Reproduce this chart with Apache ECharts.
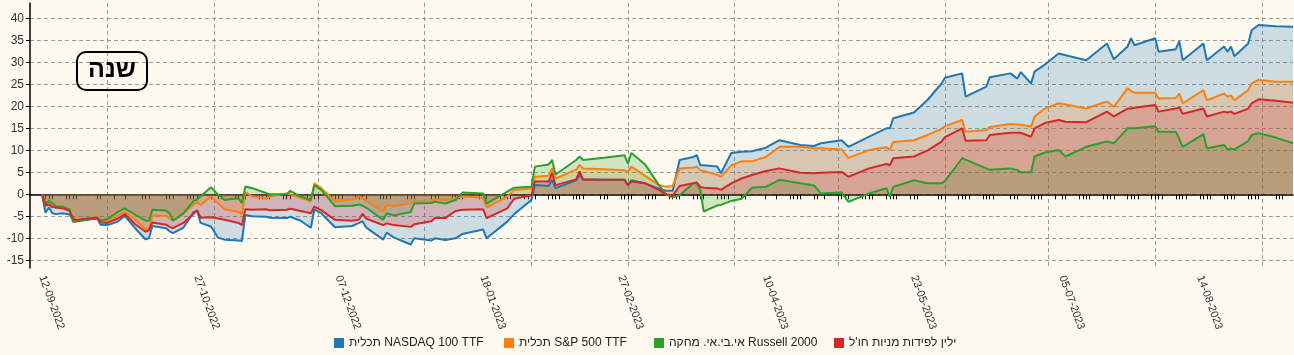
<!DOCTYPE html>
<html><head><meta charset="utf-8">
<script src="https://cdn.jsdelivr.net/npm/echarts@6/dist/echarts.min.js"></script>
<style>html,body{margin:0;padding:0;background:#fdf9ee;}#c{width:1294px;height:355px;}</style>
</head><body><div id="c"></div>
<script>
const seriesNames = ['תכלית NASDAQ 100 TTF','תכלית S&P 500 TTF','אי.בי.אי. מחקה Russell 2000',"ילין לפידות מניות חו'ל"];
const colors = ['#1f77b4','#ff7f0e','#2ca02c','#d62728'];
const titleText = 'שנה';
const yTicks = [-15,-10,-5,0,5,10,15,20,25,30,35,40];
const labelDates = ['2022-09-12','2022-10-27','2022-12-07','2023-01-18','2023-02-27','2023-04-10','2023-05-23','2023-07-05','2023-08-14'];
const monthStarts = ['2022-10-01','2022-11-01','2022-12-01','2023-01-01','2023-02-01','2023-03-01','2023-04-01','2023-05-01','2023-06-01','2023-07-01','2023-08-01','2023-09-01'];
const holidays = ['2022-09-26','2022-09-27','2022-10-04','2022-10-05','2022-10-10','2022-10-17','2022-11-01','2022-11-24','2022-12-26','2023-01-02','2023-01-16','2023-02-20','2023-04-05','2023-04-06','2023-04-11','2023-04-12','2023-04-26','2023-05-25','2023-05-29','2023-06-19','2023-07-04','2023-09-04'];
const axisStart = '2022-09-08T12:00';
const axisEnd = '2023-09-10';

const dates = [
'2022-09-12','2022-09-13','2022-09-14','2022-09-15','2022-09-16','2022-09-18','2022-09-20','2022-09-21','2022-09-22','2022-09-24',
'2022-09-28','2022-09-29','2022-10-01','2022-10-04','2022-10-06','2022-10-09','2022-10-12','2022-10-13','2022-10-14','2022-10-18',
'2022-10-19','2022-10-20','2022-10-23','2022-10-26','2022-10-27','2022-10-28','2022-10-31','2022-11-01','2022-11-02','2022-11-04',
'2022-11-08','2022-11-09','2022-11-10','2022-11-12','2022-11-16','2022-11-17','2022-11-22','2022-11-23','2022-11-26','2022-11-29',
'2022-11-30','2022-12-02','2022-12-06','2022-12-11','2022-12-13','2022-12-14','2022-12-15','2022-12-20','2022-12-21','2022-12-23',
'2022-12-28','2022-12-29','2023-01-03','2023-01-04','2023-01-07','2023-01-10','2023-01-12','2023-01-18','2023-01-19','2023-01-25',
'2023-01-27','2023-02-01','2023-02-02','2023-02-06','2023-02-07','2023-02-08','2023-02-14','2023-02-15','2023-02-16','2023-02-22',
'2023-02-28','2023-03-01','2023-03-02','2023-03-06','2023-03-10','2023-03-12','2023-03-14','2023-03-16','2023-03-20','2023-03-21',
'2023-03-22','2023-03-23','2023-03-27','2023-03-28','2023-03-31','2023-04-03','2023-04-06','2023-04-10','2023-04-14','2023-04-20',
'2023-04-24','2023-04-26','2023-05-02','2023-05-04','2023-05-10','2023-05-15','2023-05-16','2023-05-17','2023-05-23','2023-05-27',
'2023-05-31','2023-06-01','2023-06-06','2023-06-07','2023-06-13','2023-06-14','2023-06-20','2023-06-22','2023-06-23','2023-06-26',
'2023-06-27','2023-06-30','2023-07-04','2023-07-06','2023-07-12','2023-07-18','2023-07-20','2023-07-24','2023-07-25','2023-07-26',
'2023-08-01','2023-08-02','2023-08-07','2023-08-08','2023-08-09','2023-08-15','2023-08-16','2023-08-21','2023-08-22','2023-08-23',
'2023-08-24','2023-08-28','2023-08-29','2023-08-31','2023-09-05','2023-09-10'];

const nasdaq = [
0,-4.2,-3.0,-4.3,-4.5,-4.3,-4.6,-5.9,-6.0,-5.9,
-5.5,-6.9,-7.0,-6.2,-4.9,-7.7,-10.2,-10.0,-7.2,-7.7,
-8.4,-8.8,-7.6,-4.0,-3.8,-6.5,-7.3,-8.5,-9.8,-10.3,
-10.5,-10.6,-4.7,-5.0,-5.1,-5.3,-5.4,-5.1,-6.0,-7.6,
-3.4,-4.3,-7.5,-7.2,-6.5,-6.1,-7.5,-10.3,-8.7,-9.8,
-11.4,-10.0,-10.5,-10.0,-10.4,-10.0,-9.0,-8.0,-10.0,-6.2,
-4.5,-1.3,2.1,1.9,3.3,1.4,3.2,4.4,3.4,3.3,
3.3,2.1,3.2,2.5,1.3,0.8,0.8,7.8,8.5,8.9,
6.6,6.6,6.3,4.8,9.4,9.7,9.8,10.6,12.3,11.2,
11.0,11.6,12.3,10.8,13.1,15.0,15.0,17.3,18.6,21.5,
25.2,26.5,27.5,22.2,24.5,26.6,27.5,26.3,27.8,25.2,
27.9,29.5,32.0,31.6,30.5,34.3,30.7,33.6,35.5,33.9,
35.5,32.4,33.0,34.8,30.5,34.3,30.5,33.6,32.4,33.6,
31.4,34.3,37.3,38.5,38.2,38.1];

const sp500 = [
0,-2.4,-2.0,-2.6,-3.0,-3.0,-3.6,-5.8,-6.0,-5.7,
-5.2,-6.3,-6.2,-4.8,-4.0,-5.7,-7.9,-8.0,-4.8,-4.9,
-5.5,-6.0,-4.5,-2.3,-1.8,-2.5,-0.5,-1.3,-2.0,-3.4,
-4.0,-4.5,0.5,-0.5,-0.9,-0.5,0.2,0.0,-0.8,-1.6,
2.5,1.4,-1.6,-1.2,-0.5,-0.9,-1.5,-3.9,-2.4,-2.7,
-2.0,-1.7,-1.7,-1.1,-1.3,-0.9,-0.5,-0.8,-3.0,-0.5,
1.0,1.3,4.0,4.2,5.9,3.6,5.6,6.7,5.9,5.7,
5.5,5.1,6.3,4.2,2.1,1.7,1.9,5.9,6.1,6.3,
5.5,5.3,4.4,4.0,6.6,7.5,7.5,8.5,10.8,10.8,
10.5,10.5,10.2,8.3,10.1,10.7,10.1,11.9,12.3,13.5,
14.9,15.5,16.9,14.2,14.6,15.3,16.0,15.9,15.8,15.4,
17.7,19.5,20.7,20.4,19.5,21.1,19.9,24.1,23.5,23.1,
23.1,21.8,21.9,22.9,20.7,23.7,21.4,22.9,22.2,22.5,
21.4,23.7,25.2,26.0,25.6,25.6];

const russell = [
0,-2.2,-1.5,-2.0,-2.7,-2.8,-3.5,-6.3,-6.2,-5.9,
-5.3,-6.0,-5.6,-4.0,-3.2,-4.6,-6.0,-6.0,-3.5,-3.7,
-4.3,-6.0,-4.3,-1.5,-1.2,-0.5,1.6,0.8,0.0,-1.3,
-0.9,-2.0,1.8,1.4,0.3,0.0,0.0,0.8,-0.5,-1.3,
2.1,1.0,-2.7,-2.6,-2.3,-2.6,-3.0,-5.8,-4.3,-4.8,
-4.0,-2.1,-2.0,-1.7,-2.1,-1.3,0.4,0.2,-2.1,0.6,
1.5,1.7,6.3,6.8,7.8,4.5,7.8,8.6,7.8,8.3,
8.9,7.0,9.4,6.8,2.1,0.0,-0.7,-0.2,2.5,2.5,
1.0,-3.9,-2.5,-2.4,-1.5,-1.0,1.5,1.7,3.3,2.5,
2.0,0.2,0.4,-1.7,0.2,1.4,-0.5,1.7,3.2,2.5,
2.5,3.0,8.2,7.9,5.9,5.6,5.9,5.5,5.0,5.0,
8.6,9.5,10.1,8.6,10.8,12.0,11.6,15.0,15.0,15.0,
15.5,14.2,14.2,12.6,10.8,13.7,10.5,11.2,10.2,10.4,
10.2,12.1,13.5,13.9,12.9,11.6];

const yelin = [
0,-2.6,-2.3,-2.9,-3.0,-3.2,-3.8,-5.6,-5.9,-5.6,
-5.3,-6.4,-6.5,-5.5,-4.5,-6.8,-8.5,-8.2,-6.4,-6.9,
-7.4,-7.7,-6.5,-4.4,-3.6,-5.3,-5.2,-5.3,-5.5,-5.8,
-6.5,-7.0,-3.4,-3.5,-3.4,-3.6,-3.5,-3.3,-3.8,-4.3,
-2.8,-3.6,-5.8,-6.0,-5.7,-4.4,-5.5,-7.0,-6.6,-7.0,
-7.4,-6.8,-6.1,-5.4,-5.4,-3.8,-3.5,-3.4,-5.4,-3.2,
-1.0,-0.2,2.9,2.9,4.8,2.1,3.4,5.2,3.3,3.3,
3.3,2.1,2.9,2.5,1.0,0.0,-0.3,1.9,2.5,2.7,
1.7,1.5,1.3,1.0,2.5,3.6,4.4,5.3,5.9,4.9,
4.8,4.9,5.1,4.0,5.9,6.9,6.6,8.2,8.6,10.0,
12.0,13.0,15.0,12.2,12.3,13.5,14.0,14.0,14.0,13.1,
15.0,16.2,16.9,16.5,16.4,18.8,17.7,19.5,19.5,19.7,
20.3,18.8,19.5,19.8,18.3,19.5,17.7,18.8,18.6,18.8,
18.3,19.5,20.7,21.6,21.3,20.8];

function ts(s){
  const [dp,tp] = s.split('T');
  const [y,m,d] = dp.split('-').map(Number);
  let h=0, mi=0;
  if (tp) { [h,mi] = tp.split(':').map(Number); }
  return new Date(y, m-1, d, h, mi).getTime();
}
function fmt(v){
  const t = new Date(v);
  return String(t.getDate()).padStart(2,'0')+'-'+String(t.getMonth()+1).padStart(2,'0')+'-'+t.getFullYear();
}
const hol = new Set(holidays);
function tradingDays(){
  const out = [];
  const end = ts(axisEnd);
  for (let t = new Date(2022, 8, 12); t.getTime() <= end; t.setDate(t.getDate()+1)) {
    const wd = t.getDay();
    const key = t.getFullYear()+'-'+String(t.getMonth()+1).padStart(2,'0')+'-'+String(t.getDate()).padStart(2,'0');
    if (wd>=1 && wd<=4 && !hol.has(key)) out.push(t.getTime());
  }
  return out;
}

const valuesList = [nasdaq, sp500, russell, yelin];
const chart = echarts.init(document.getElementById('c'), null, {renderer:'canvas'});
const legendLefts = [334, 504, 654, 834];
const font = 'Liberation Sans, Arial, sans-serif';

const option = {
  animation: false,
  backgroundColor: '#fdf9ee',
  title: {
    text: titleText, left: 77, top: 52,
    padding: [6, 11, 7, 11],
    borderColor: '#000', borderWidth: 2, borderRadius: 9,
    textStyle: {fontSize: 25, fontWeight: 'bold', color: '#000', fontFamily: font}
  },
  legend: seriesNames.map((n,i)=>({
    data: [n], left: legendLefts[i], top: 337, padding: 0,
    icon: 'rect', itemWidth: 10, itemHeight: 10, itemGap: 0,
    textStyle: {fontSize: 12, color: '#222', fontFamily: font}
  })),
  grid: {left: 30, right: 1, top: 3, bottom: 87, containLabel: false},
  xAxis: [{
    type: 'value', min: ts(axisStart), max: ts(axisEnd),
    axisLine: {lineStyle: {color: '#000', width: 1.5}},
    axisTick: {show: true, length: 5, customValues: tradingDays(), lineStyle: {color: '#000', width: 1}},
    axisLabel: {
      customValues: labelDates.map(ts), rotate: -70, margin: 8,
      fontSize: 11, color: '#333', fontFamily: font,
      formatter: v => fmt(v)
    },
    splitLine: {show: false}
  },{
    type: 'value', min: ts(axisStart), max: ts(axisEnd), position: 'bottom',
    axisLine: {show: false},
    axisTick: {show: false, customValues: monthStarts.map(ts)},
    axisLabel: {show: false},
    splitLine: {show: true, lineStyle: {color: '#9a9a9a', type: [4, 3], width: 1}}
  }],
  yAxis: {
    type: 'value', min: -16.75, max: 43.5,
    axisLine: {show: true, lineStyle: {color: '#000', width: 1.5}},
    axisTick: {show: true, length: 4, customValues: yTicks, lineStyle: {color: '#000'}},
    axisLabel: {customValues: yTicks, margin: 6, fontSize: 12, color: '#333', fontFamily: font},
    splitLine: {show: true, lineStyle: {color: '#9a9a9a', type: [4, 3], width: 1}}
  },
  series: seriesNames.map((n,i)=>({
    name: n, type: 'line', xAxisIndex: 0,
    data: dates.map((d,j)=>[ts(d), valuesList[i][j]]),
    showSymbol: false, symbol: 'none',
    lineStyle: {width: 2, color: colors[i]},
    itemStyle: {color: colors[i]},
    areaStyle: {color: colors[i], opacity: 0.22, origin: 0}
  }))
};
chart.setOption(option);
</script></body></html>
